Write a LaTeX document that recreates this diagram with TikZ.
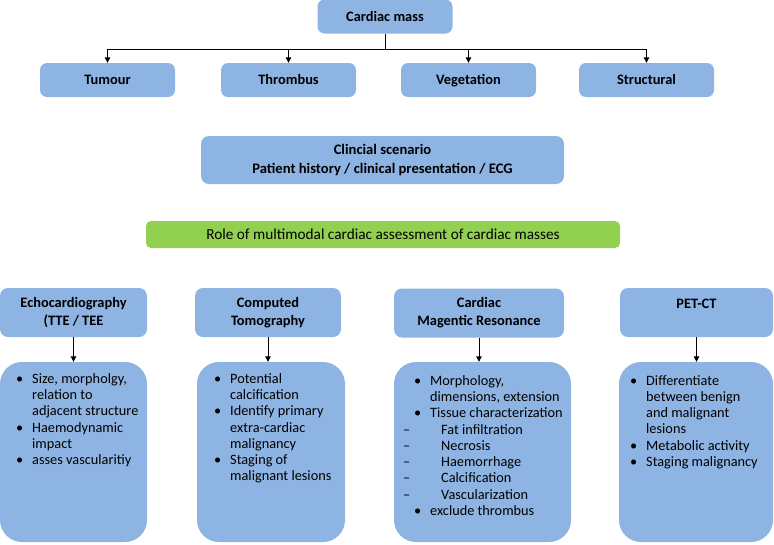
\documentclass[tikz,border=0pt]{standalone}
\usepackage{fontspec}
\setmainfont{Carlito}
\usepackage{tikz}
\usetikzlibrary{arrows.meta, positioning}
\definecolor{boxblue}{HTML}{8EB4E3}
\definecolor{bargreen}{HTML}{92D050}
\newcommand{\bul}{\llap{\textbullet\hspace{9pt}}}
\newcommand{\dsh}{\llap{--\hspace{20pt}}\hspace*{11pt}}

\begin{document}
\begin{tikzpicture}[
  x=1pt, y=-1pt,
  typebox/.style={fill=boxblue, rectangle, rounded corners=7pt, minimum width=135pt, minimum height=34pt, text height=12pt, text depth=3pt, font=\bfseries\fontsize{14.4}{17}\selectfont},
  headbox/.style={fill=boxblue, rectangle, rounded corners=8pt, minimum height=49pt, align=center, font=\bfseries\fontsize{14.4}{18}\selectfont},
  bodybox/.style={fill=boxblue, rectangle, rounded corners=22pt, minimum height=180pt},
  bodytext/.style={anchor=north west, inner sep=0pt, align=left, font=\fontsize{14.3}{16.3}\selectfont},
  >={Triangle[length=5.5pt, width=5.5pt]}
]
\useasboundingbox (0,0) rectangle (774,544);

\node[typebox] (mass) at (385,16.5) {Cardiac mass};
\node[typebox] (tumour) at (107.5,80) {Tumour};
\node[typebox] (thrombus) at (288.5,80) {Thrombus};
\node[typebox] (vegetation) at (468.5,80) {Vegetation};
\node[typebox] (structural) at (646.5,80) {Structural};
\coordinate (split) at (385,49);

\draw[line width=1pt] (mass) -- (split);
\foreach \kind in {tumour, thrombus, vegetation, structural}
  \draw[->, line width=1pt] (split) -| (\kind);

\node[fill=boxblue, rounded corners=8pt, minimum width=363pt, minimum height=48pt, align=center, font=\bfseries\fontsize{14.6}{19.5}\selectfont] (scenario) at (382.5,160) {Clincial scenario\\Patient history / clinical presentation / ECG};
\node[fill=bargreen, rounded corners=5pt, minimum width=474pt, minimum height=27pt, font=\fontsize{15.3}{18}\selectfont] (role) at (383,234.5) {Role of multimodal cardiac assessment of cardiac masses};

\node[headbox, minimum width=147pt] (echohead) at (73.5,312.5) {Echocardiography\\(TTE / TEE};
\node[headbox, minimum width=146pt] (cthead) at (268,312.5) {Computed\\Tomography};
\node[headbox, minimum width=170pt] (cmrhead) at (479,313) {Cardiac\\Magentic Resonance};
\node[headbox, minimum width=153pt] (pethead) at (696.5,312.5) {PET-CT\\~};

\node[bodybox, minimum width=147pt] (echobody) at (73.5,452) {};
\node[bodybox, minimum width=148pt] (ctbody) at (271,452) {};
\node[bodybox, minimum width=177pt] (cmrbody) at (482.5,452) {};
\node[bodybox, minimum width=154pt] (petbody) at (696,452) {};

\draw[->, line width=1pt] (echohead.south) -- (echohead.south |- echobody.north);
\draw[->, line width=1pt] (cthead.south) -- (cthead.south |- ctbody.north);
\draw[->, line width=1pt] (cmrhead.south) -- (cmrhead.south |- cmrbody.north);
\draw[->, line width=1pt] (pethead.south) -- (pethead.south |- petbody.north);

\node[bodytext] (echolist) at (32,373) {\bul Size, morpholgy,\\relation to\\adjacent structure\\\bul Haemodynamic\\impact\\\bul asses vascularitiy};
\node[bodytext] (ctlist) at (230,373) {\bul Potential\\calcification\\\bul Identify primary\\extra-cardiac\\malignancy\\\bul Staging of\\malignant lesions};
\node[bodytext] (cmrlist) at (430,375) {\bul Morphology,\\dimensions, extension\\\bul Tissue characterization\\\dsh Fat infiltration\\\dsh Necrosis\\\dsh Haemorrhage\\\dsh Calcification\\\dsh Vascularization\\\bul exclude thrombus};
\node[bodytext] (petlist) at (646,375) {\bul Differentiate\\between benign\\and malignant\\lesions\\\bul Metabolic activity\\\bul Staging malignancy};
\end{tikzpicture}
\end{document}
